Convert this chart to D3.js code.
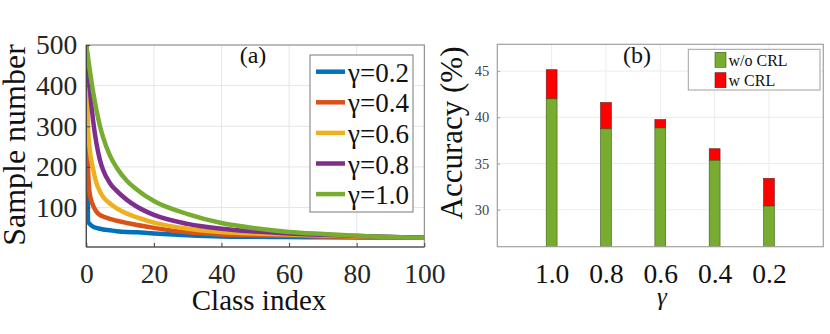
<!DOCTYPE html>
<html>
<head>
<meta charset="utf-8">
<script src="https://cdn.jsdelivr.net/npm/d3@7"></script>
<style>
  body { margin: 0; background: #fff; }
  svg text { font-family: "Liberation Serif", "Times New Roman", Times, "DejaVu Serif", serif; }
</style>
</head>
<body>
<div id="chart"></div>
<script>
var W = 830, H = 334;
var FONT = '"Liberation Serif", "Times New Roman", Times, "DejaVu Serif", serif';

// (a) sample number per class index
var classIdx = [0, 0.5, 1, 2, 3, 4, 5, 7, 9, 12, 15, 20, 30, 40, 50, 60, 70, 85, 100];
var gammaNames = ["\u03b3=0.2", "\u03b3=0.4", "\u03b3=0.6", "\u03b3=0.8", "\u03b3=1.0"];
var g02 = [500, 66, 60, 53, 50, 48, 46, 44, 42, 40, 39, 36.5, 32, 29, 28, 27.5, 27, 26.5, 26];
var g04 = [500, 200, 135, 105, 90, 82, 78, 72, 67.5, 62, 57, 50, 39, 34, 32, 31, 29, 27.5, 26];
var g06 = [500, 300, 245, 195, 160, 140, 126, 110, 98, 85, 76, 63, 48, 40, 36, 34, 31, 28, 26];
var g08 = [500, 445, 395, 315, 258, 218, 192, 160, 141, 119, 102, 82, 60, 48, 41, 36, 33, 29, 26];
var g10 = [500, 470, 440, 385, 340, 302, 272, 228, 198, 166, 144, 116, 84, 62, 49, 40, 35, 29, 26];
var lineColors = ["#0072BD", "#D95319", "#EDB120", "#7E2F8E", "#77AC30"];

// (b) accuracy per gamma
var gammaCats = ["1.0", "0.8", "0.6", "0.4", "0.2"];
var accBase = [42.0, 38.75, 38.85, 35.35, 30.4];
var accCRL = [45.15, 41.6, 39.75, 36.6, 33.4];
var yTicksB = [30, 35, 40, 45];

var svg = d3.select("#chart").append("svg")
  .attr("width", W)
  .attr("height", H);

// ---------- panel (a) ----------
var a = { l: 86.3, r: 424.3, t: 45, b: 247 };
var xa = d3.scaleLinear().domain([0, 100]).range([a.l, a.r]);
var ya = d3.scaleLinear().domain([3, 500]).range([a.b, a.t]);

var ga = svg.append("g");

// grid
ga.selectAll(".gx").data(d3.range(20, 100, 20)).enter().append("line")
  .attr("x1", function(d) { return xa(d); })
  .attr("x2", function(d) { return xa(d); })
  .attr("y1", a.t).attr("y2", a.b)
  .attr("stroke", "#e6e6e6").attr("stroke-width", 1);
ga.selectAll(".gy").data([100, 200, 300, 400]).enter().append("line")
  .attr("x1", a.l).attr("x2", a.r)
  .attr("y1", function(d) { return ya(d); })
  .attr("y2", function(d) { return ya(d); })
  .attr("stroke", "#e6e6e6").attr("stroke-width", 1);

svg.append("clipPath").attr("id", "clipA").append("rect")
  .attr("x", a.l).attr("y", a.t).attr("width", a.r - a.l).attr("height", a.b - a.t);

var series = [g02, g04, g06, g08, g10];
var line = d3.line()
  .x(function(d, i) { return xa(classIdx[i]); })
  .y(function(d) { return ya(d); })
  .curve(d3.curveMonotoneX);

ga.append("g").attr("clip-path", "url(#clipA)")
  .selectAll("path").data(series).enter().append("path")
  .attr("d", line)
  .attr("fill", "none")
  .attr("stroke", function(d, i) { return lineColors[i]; })
  .attr("stroke-width", 4.5)
  .attr("stroke-linejoin", "round");

// box
ga.append("rect")
  .attr("x", a.l).attr("y", a.t).attr("width", a.r - a.l).attr("height", a.b - a.t)
  .attr("fill", "none").attr("stroke", "#7a7a7a").attr("stroke-width", 1);
ga.append("line").attr("x1", a.l).attr("x2", a.l).attr("y1", a.t).attr("y2", a.b)
  .attr("stroke", "#444").attr("stroke-width", 1.2);
ga.append("line").attr("x1", a.l).attr("x2", a.r).attr("y1", a.b).attr("y2", a.b)
  .attr("stroke", "#444").attr("stroke-width", 1.2);

var axA = ga.append("g").attr("transform", "translate(0," + a.b + ")")
  .call(d3.axisBottom(xa).tickValues([0, 20, 40, 60, 80, 100]).tickSize(-4).tickPadding(16));
axA.select(".domain").remove();
axA.attr("font-family", FONT);
axA.selectAll("line").attr("stroke", "#444");
axA.selectAll("text").attr("font-size", 27.5).attr("fill", "#262626");

var ayA = ga.append("g").attr("transform", "translate(" + a.l + ",0)")
  .call(d3.axisLeft(ya).tickValues([100, 200, 300, 400, 500]).tickSize(-4).tickPadding(9));
ayA.select(".domain").remove();
ayA.attr("font-family", FONT);
ayA.selectAll("line").attr("stroke", "#444");
ayA.selectAll("text").attr("font-size", 27.5).attr("fill", "#262626");

ga.append("text").attr("x", 259).attr("y", 310)
  .attr("text-anchor", "middle").attr("font-size", 29).attr("fill", "#111").text("Class index");
ga.append("text").attr("transform", "translate(25,145) rotate(-90)")
  .attr("text-anchor", "middle").attr("font-size", 32).attr("fill", "#111").text("Sample number");
ga.append("text").attr("x", 253).attr("y", 63)
  .attr("text-anchor", "middle").attr("font-size", 24).attr("fill", "#111").text("(a)");

// legend (a)
var la = ga.append("g");
la.append("rect").attr("x", 310).attr("y", 55).attr("width", 103).attr("height", 157)
  .attr("fill", "#fff").attr("stroke", "#7a7a7a").attr("stroke-width", 1);
var laRow = la.selectAll(".row").data(gammaNames).enter().append("g")
  .attr("transform", function(d, i) { return "translate(0," + (71.7 + i * 30.6) + ")"; });
laRow.append("line").attr("x1", 316).attr("x2", 345).attr("y1", 0).attr("y2", 0)
  .attr("stroke", function(d, i) { return lineColors[i]; }).attr("stroke-width", 4.5);
laRow.append("text").attr("x", 348).attr("y", 10).attr("font-size", 27).attr("fill", "#111")
  .text(function(d) { return d; });

// ---------- panel (b) ----------
var b = { l: 497.3, r: 823.3, t: 44.3, b: 246.7 };
var xb = d3.scaleLinear().domain([0, 6]).range([b.l, b.r]);
var yb = d3.scaleLinear().domain([26, 47.9]).range([b.b, b.t]);
var gb = svg.append("g");

gb.selectAll(".gx").data(gammaCats).enter().append("line")
  .attr("x1", function(d, i) { return xb(i + 1); })
  .attr("x2", function(d, i) { return xb(i + 1); })
  .attr("y1", b.t).attr("y2", b.b)
  .attr("stroke", "#ececec").attr("stroke-width", 1);
gb.selectAll(".gy").data(yTicksB).enter().append("line")
  .attr("x1", b.l).attr("x2", b.r)
  .attr("y1", function(d) { return yb(d); })
  .attr("y2", function(d) { return yb(d); })
  .attr("stroke", "#ececec").attr("stroke-width", 1);

var bw = xb(0.2) - xb(0);
gb.selectAll(".red").data(accCRL).enter().append("rect")
  .attr("x", function(d, i) { return xb(i + 1) - bw / 2; })
  .attr("y", function(d) { return yb(d); })
  .attr("width", bw)
  .attr("height", function(d, i) { return yb(accBase[i]) - yb(d); })
  .attr("fill", "#FF0000").attr("stroke", "#5a2020").attr("stroke-width", 0.6);
gb.selectAll(".green").data(accBase).enter().append("rect")
  .attr("x", function(d, i) { return xb(i + 1) - bw / 2; })
  .attr("y", function(d) { return yb(d); })
  .attr("width", bw)
  .attr("height", function(d) { return b.b - yb(d); })
  .attr("fill", "#77AC30").attr("stroke", "#3d5a1a").attr("stroke-width", 0.6);

gb.append("rect")
  .attr("x", b.l).attr("y", b.t).attr("width", b.r - b.l).attr("height", b.b - b.t)
  .attr("fill", "none").attr("stroke", "#a0a0a0").attr("stroke-width", 1.2);

var ayB = gb.append("g").attr("transform", "translate(" + b.l + ",0)")
  .call(d3.axisLeft(yb).tickValues(yTicksB).tickSize(-3).tickPadding(8));
ayB.select(".domain").remove();
ayB.attr("font-family", FONT);
ayB.selectAll("line").attr("stroke", "#a0a0a0");
ayB.selectAll("text").attr("font-size", 14.5).attr("fill", "#444");

var xbPt = d3.scalePoint().domain(gammaCats).range([xb(1), xb(5)]);
var axB = gb.append("g").attr("transform", "translate(0," + b.b + ")")
  .call(d3.axisBottom(xbPt).tickSize(0).tickPadding(17));
axB.select(".domain").remove();
axB.attr("font-family", FONT);
axB.selectAll("text").attr("font-size", 27.5).attr("fill", "#111");

gb.append("text").attr("x", 662).attr("y", 305)
  .attr("text-anchor", "middle").attr("font-size", 25).attr("font-style", "italic").attr("fill", "#111")
  .text("\u03b3");
gb.append("text").attr("transform", "translate(462,133) rotate(-90)")
  .attr("text-anchor", "middle").attr("font-size", 31).attr("fill", "#111").text("Accuracy (%)");
gb.append("text").attr("x", 637).attr("y", 63)
  .attr("text-anchor", "middle").attr("font-size", 24).attr("fill", "#111").text("(b)");

// legend (b)
var legB = [{ name: "w/o CRL", color: "#77AC30", edge: "#3d5a1a" }, { name: "w CRL", color: "#FF0000", edge: "#5a2020" }];
var lb = gb.append("g");
lb.append("rect").attr("x", 688.3).attr("y", 49.3).attr("width", 131.7).attr("height", 40.7)
  .attr("fill", "#fff").attr("stroke", "#a0a0a0").attr("stroke-width", 1);
var lbRow = lb.selectAll(".row").data(legB).enter().append("g")
  .attr("transform", function(d, i) { return "translate(0," + (52.3 + i * 20.4) + ")"; });
lbRow.append("rect").attr("x", 715).attr("y", 0).attr("width", 11).attr("height", 15)
  .attr("fill", function(d) { return d.color; })
  .attr("stroke", function(d) { return d.edge; }).attr("stroke-width", 0.6);
lbRow.append("text").attr("x", 728.5).attr("y", 13.3).attr("font-size", 16).attr("fill", "#111")
  .text(function(d) { return d.name; });
</script>
</body>
</html>
